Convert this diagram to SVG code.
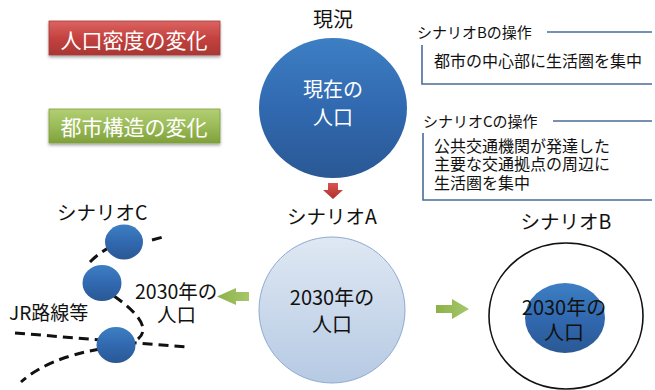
<svg xmlns="http://www.w3.org/2000/svg" width="655" height="390" viewBox="0 0 655 390">
<defs>
<linearGradient id="gRed" x1="0" y1="0" x2="0" y2="1"><stop offset="0" stop-color="#dc6461"/><stop offset="0.5" stop-color="#c4423f"/><stop offset="1" stop-color="#a93734"/></linearGradient>
<linearGradient id="gGreen" x1="0" y1="0" x2="0" y2="1"><stop offset="0" stop-color="#b2cf72"/><stop offset="0.5" stop-color="#9bbb59"/><stop offset="1" stop-color="#80a03c"/></linearGradient>
<linearGradient id="gBlue" x1="0" y1="0" x2="0" y2="1"><stop offset="0" stop-color="#3d7fc4"/><stop offset="0.5" stop-color="#3169b0"/><stop offset="1" stop-color="#2a5894"/></linearGradient>
<linearGradient id="gLight" x1="0" y1="0" x2="0" y2="1"><stop offset="0" stop-color="#dfe8f3"/><stop offset="1" stop-color="#b6cae3"/></linearGradient>
<linearGradient id="gArrG" x1="0" y1="0" x2="1" y2="0"><stop offset="0" stop-color="#8cb14a"/><stop offset="1" stop-color="#a7c76a"/></linearGradient>
<linearGradient id="gArrR" x1="0" y1="0" x2="0" y2="1"><stop offset="0" stop-color="#d9534f"/><stop offset="1" stop-color="#b0302c"/></linearGradient>
<filter id="sh" x="-10%" y="-20%" width="120%" height="150%"><feDropShadow dx="0" dy="2" stdDeviation="1.5" flood-color="#000" flood-opacity="0.35"/></filter>
</defs>
<style>
text{font-family:"Noto Sans CJK JP","Noto Sans",sans-serif;}
.w{fill:#fff;}
.k{fill:#111;}
.pl{fill:none;stroke:#4a6c9b;stroke-width:1.6;}
.dash{fill:none;stroke:#111;stroke-width:3;stroke-dasharray:10 6;}
.bc{fill:url(#gBlue);}
</style>
<rect width="655" height="390" fill="#fff"/>

<g id="label-density">
<rect x="49" y="21" width="171" height="34" fill="url(#gRed)" stroke="#a33a37" stroke-width="0.8" filter="url(#sh)"/>
<text x="134" y="47.5" font-size="21" text-anchor="middle" class="w">人口密度の変化</text>
</g>
<g id="label-structure">
<rect x="49" y="109" width="171" height="34" fill="url(#gGreen)" stroke="#7f9f3c" stroke-width="0.8" filter="url(#sh)"/>
<text x="134" y="134.5" font-size="21" text-anchor="middle" class="w">都市構造の変化</text>
</g>

<g id="current">
<text x="333" y="27" font-size="20" text-anchor="middle" class="k">現況</text>
<ellipse cx="333" cy="108" rx="74" ry="70" class="bc"/>
<text x="333" y="97" font-size="20" text-anchor="middle" class="w">現在の</text>
<text x="333" y="125" font-size="20" text-anchor="middle" class="w">人口</text>
</g>

<g id="scenarioB-op">
<text x="417" y="37.5" font-size="15" class="k">シナリオBの操作</text>
<path class="pl" d="M547 32H652M422 45V84H652"/>
<text x="434" y="67" font-size="16" class="k">都市の中心部に生活圏を集中</text>
</g>
<g id="scenarioC-op">
<text x="423" y="126.5" font-size="15" class="k">シナリオCの操作</text>
<path class="pl" d="M553 121H652M423 133V200H652"/>
<text x="434" y="152" font-size="16" class="k">公共交通機関が発達した</text>
<text x="434" y="170" font-size="16" class="k">主要な交通拠点の周辺に</text>
<text x="434" y="189" font-size="16" class="k">生活圏を集中</text>
</g>

<g id="scenarioA">
<text x="332" y="224" font-size="19.5" text-anchor="middle" class="k">シナリオA</text>
<circle cx="332" cy="310" r="73" fill="url(#gLight)" stroke="#8eaad3" stroke-width="1"/>
<text x="332" y="305" font-size="20" text-anchor="middle" class="k">2030年の</text>
<text x="332" y="332" font-size="20" text-anchor="middle" class="k">人口</text>
</g>

<g id="scenarioB">
<text x="566" y="229" font-size="19.5" text-anchor="middle" class="k">シナリオB</text>
<ellipse cx="566" cy="316" rx="77" ry="73" fill="none" stroke="#111" stroke-width="1.6"/>
<ellipse cx="565" cy="318" rx="40" ry="35" class="bc"/>
<text x="564" y="315" font-size="20" text-anchor="middle" class="k">2030年の</text>
<text x="564" y="340" font-size="20" text-anchor="middle" class="k">人口</text>
</g>

<g id="connectors">
<path d="M328 183H338V190H343L333 199L323 190H328Z" fill="url(#gArrR)"/>
<path d="M249 292H236V288L217 296.5L236 305V301H249Z" fill="url(#gArrG)"/>
<path d="M436 305H452V299L469 309L452 319V313H436Z" fill="url(#gArrG)"/>
</g>

<g id="scenarioC">
<text x="57" y="220" font-size="19.5" class="k">シナリオC</text>
<path class="dash" d="M152 240L163 237"/>
<path class="dash" d="M90 262Q100 252 112 246"/>
<path class="dash" d="M114 296Q155 325 138 339"/>
<path class="dash" d="M15 333L187 347"/>
<path class="dash" d="M100 349Q48 358 21 382"/>
<ellipse cx="124" cy="242" rx="19" ry="17.5" class="bc"/>
<ellipse cx="102" cy="283" rx="19.5" ry="18" class="bc"/>
<ellipse cx="116" cy="345" rx="19.5" ry="18" class="bc"/>
<text x="9" y="320" font-size="19" class="k">JR路線等</text>
<text x="135" y="299" font-size="19.5" class="k">2030年の</text>
<text x="157" y="322" font-size="19.5" class="k">人口</text>
</g>
</svg>
